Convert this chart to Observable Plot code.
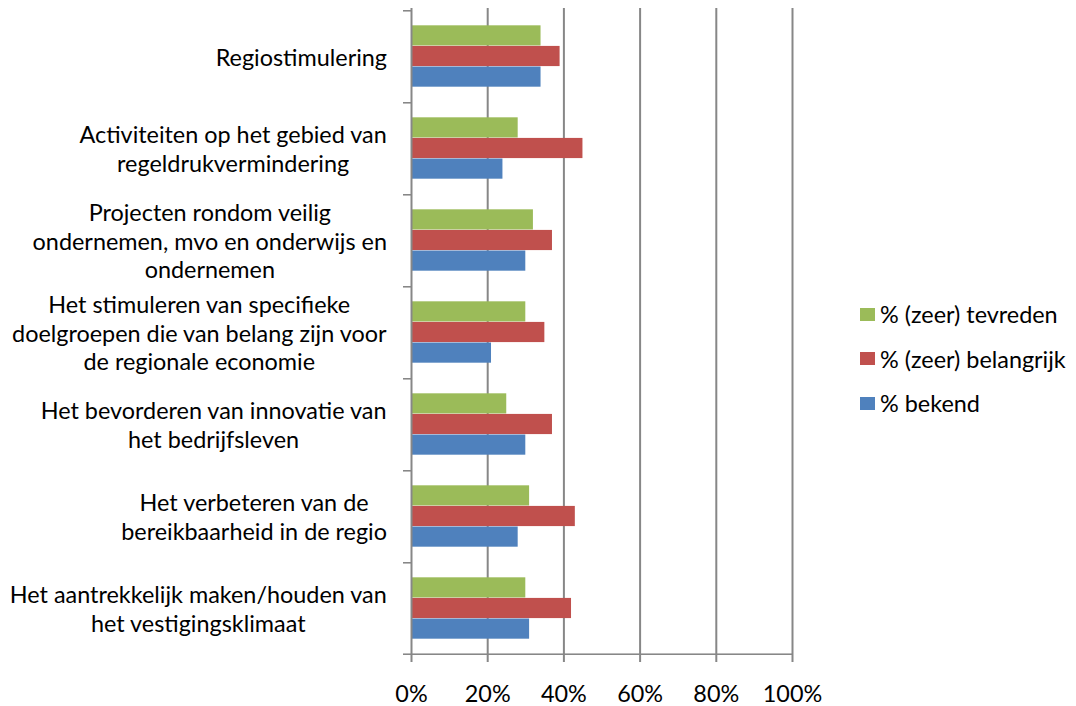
<!DOCTYPE html>
<html><head><meta charset="utf-8">
<script src="https://cdn.jsdelivr.net/npm/d3@7"></script>
<script src="https://cdn.jsdelivr.net/npm/@observablehq/plot@0.6"></script>
<style>
body{margin:0;background:#fff;font-family:Lato,sans-serif}
#wrap{position:relative;width:1076px;height:706px;overflow:hidden}
#legend{position:absolute;left:860px;top:292px;font:23.4px Lato,sans-serif;color:#000}
#legend .row{display:flex;align-items:center;height:44.5px;white-space:nowrap}
#legend .sw{width:15px;height:13px;margin-right:5px;flex:none}
</style></head><body><div id="wrap"></div>
<script>
const categories = [
  "Regiostimulering",
  "Activiteiten op het gebied van regeldrukvermindering",
  "Projecten rondom veilig ondernemen, mvo en onderwijs en ondernemen",
  "Het stimuleren van specifieke doelgroepen die van belang zijn voor de regionale economie",
  "Het bevorderen van innovatie van het bedrijfsleven",
  "Het verbeteren van de bereikbaarheid in de regio",
  "Het aantrekkelijk maken/houden van het vestigingsklimaat"
];
const categoryLines = [
  ["Regiostimulering"],
  ["Activiteiten op het gebied van", "regeldrukvermindering"],
  ["Projecten rondom veilig", "ondernemen, mvo en onderwijs en", "ondernemen"],
  ["Het stimuleren van specifieke", "doelgroepen die van belang zijn voor", "de regionale economie"],
  ["Het bevorderen van innovatie van", "het bedrijfsleven"],
  ["Het verbeteren van de", "bereikbaarheid in de regio"],
  ["Het aantrekkelijk maken/houden van", "het vestigingsklimaat"]
];
const seriesNames = ["% (zeer) tevreden", "% (zeer) belangrijk", "% bekend"];
const tevreden   = [34, 28, 32, 30, 25, 31, 30];
const belangrijk = [39, 45, 37, 35, 37, 43, 42];
const bekend     = [34, 24, 30, 21, 30, 28, 31];
const seriesColors = ["#9BBB59", "#C0504D", "#4F81BD"];
const xTicks = [0, 20, 40, 60, 80, 100];

const seriesValues = [tevreden, belangrijk, bekend];
const W = 1076, H = 706, mL = 411, mR = 284, mT = 8, mB = 51;
const bandH = (H - mT - mB) / categories.length;
const barH = 20.6;
const grid = "#878787";
const FS = 23.4;

const ctx = document.createElement("canvas").getContext("2d");
ctx.font = FS + "px Lato";
const measure = s => ctx.measureText(s).width;

const barMarks = seriesValues.map((vals, s) =>
  Plot.barX(categories.map((c, i) => ({category: c, value: vals[i], series: seriesNames[s]})), {
    y: "category", x: "value", fill: seriesColors[s],
    insetTop: (bandH - barH) / 2, insetBottom: (bandH - barH) / 2,
    dy: (s - 1) * barH
  })
);

const labelMarks = categories.map((c, i) => {
  const lines = categoryLines[i];
  const maxW = Math.max(...lines.map(measure));
  return Plot.text([c], {
    y: d => d, x: 0, text: () => lines.join("\n"),
    textAnchor: "middle", dx: -(24.5 + maxW / 2), lineHeight: 1.22,
    fontSize: FS, fill: "#000"
  });
});

const chart = Plot.plot({
  width: W, height: H,
  marginLeft: mL, marginRight: mR, marginTop: mT, marginBottom: mB,
  style: {fontFamily: "Lato, sans-serif", fontSize: FS + "px", background: "#fff", color: "#000"},
  x: {domain: [0, 100], axis: null},
  y: {domain: categories, padding: 0, axis: null},
  marks: [
    Plot.ruleX(xTicks.slice(1), {stroke: grid, strokeWidth: 2}),
    ...barMarks,
    Plot.ruleX([0], {stroke: grid, strokeWidth: 2}),
    Plot.barX(categories, {y: d => d, x1: -2.1, x2: 0, fill: grid, insetBottom: bandH - 2}),
    Plot.barX(categories.slice(-1), {y: d => d, x1: -2.1, x2: 100, fill: grid, insetTop: bandH - 1, insetBottom: -1}),
    Plot.axisX({ticks: xTicks, tickSize: 7, tickPadding: 23, tickFormat: d => d + "%",
      fontSize: FS, stroke: grid, strokeWidth: 2, fill: "#000", label: null}),
    ...labelMarks
  ]
});
const wrap = document.getElementById("wrap");
wrap.appendChild(chart);

const legend = document.createElement("div");
legend.id = "legend";
seriesNames.forEach((n, s) => {
  const row = document.createElement("div");
  row.className = "row";
  const sw = document.createElement("span");
  sw.className = "sw";
  sw.style.background = seriesColors[s];
  const t = document.createElement("span");
  t.textContent = n;
  row.appendChild(sw); row.appendChild(t);
  legend.appendChild(row);
});
wrap.appendChild(legend);
</script>
</body></html>
